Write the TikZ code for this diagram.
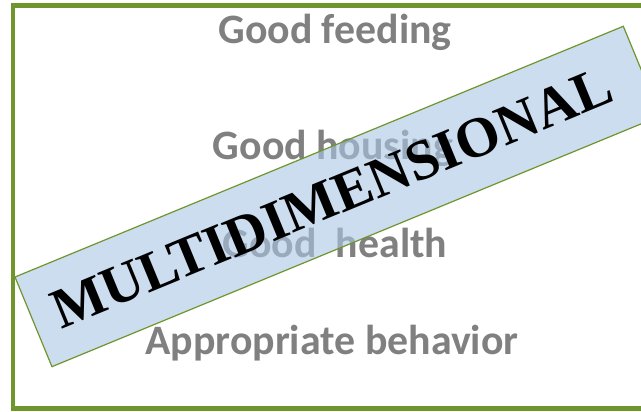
\documentclass[tikz,border=0pt]{standalone}
\usepackage{fontspec}
\newfontfamily\labelfont{Carlito}
\newfontfamily\bandfont{Liberation Serif}
\definecolor{framegreen}{RGB}{110,150,45}
\definecolor{bandblue}{RGB}{170,198,229}
\definecolor{labelgray}{RGB}{128,128,128}

\begin{document}
\begin{tikzpicture}[x=1bp,y=1bp,
  label/.style={font=\labelfont\bfseries\fontsize{42}{44}\selectfont,text=labelgray,anchor=base,inner sep=0pt}]
\useasboundingbox (0,0) rectangle (641,411);
\clip (0,0) rectangle (641,411);
\draw[framegreen,line width=4.5bp] (13,405.5) rectangle (700,2.5);

\node[label] (feeding) at (335,368) {Good feeding};
\node[label] (housing) at (333,252) {Good housing};
\node[label] (health) at (335,154) {Good\ \ health};
\node[label] (behavior) at (332,57) {Appropriate behavior};

\begin{scope}[shift={(15,134)},rotate=22.4]
\draw[framegreen,line width=1.2bp,fill=bandblue,fill opacity=0.6] (0,0) rectangle (658,-97);
\node[font=\bandfont\bfseries\fontsize{57}{60}\selectfont,inner sep=0pt,anchor=base,rotate=22.4] (band) at (323,-66) {MULTIDIMENSIONAL};
\end{scope}
\end{tikzpicture}
\end{document}
